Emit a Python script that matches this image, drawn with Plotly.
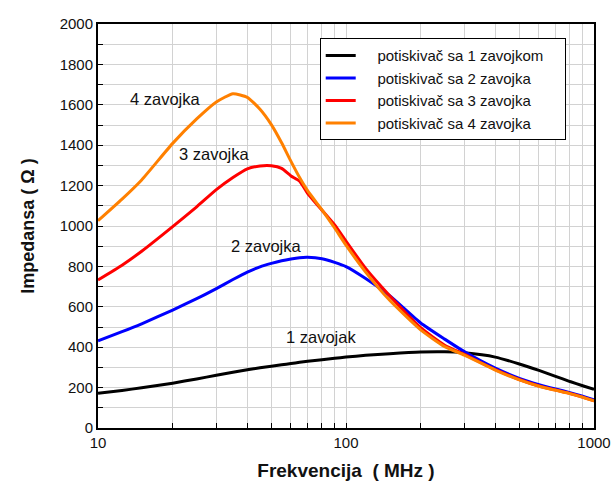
import numpy as np
import plotly.graph_objects as go

# Frequency points (MHz) shared by all measured curves
freq = [10, 12.5, 15, 20, 25, 30, 35, 40, 45, 50, 55, 60, 65, 70, 80, 90, 100,
        120, 150, 200, 250, 300, 400, 500, 600, 700, 800, 900, 1000]

# Impedance (Ohm) for ferrite suppressors with 1..4 turns
z_1 = [172, 186, 199, 222, 243, 261, 276, 288, 298, 306, 313, 319, 325, 330, 338, 345, 351,
       360, 368, 376, 377, 372, 351, 317, 285, 256, 230, 209, 191]
z_2 = [432, 477, 516, 584, 640, 690, 735, 772, 798, 815, 828, 837, 843, 845, 838, 820, 799,
       740, 655, 520, 440, 378, 296, 246, 215, 193, 175, 157, 139]
z_3 = [733, 806, 875, 997, 1095, 1180, 1240, 1283, 1297, 1298, 1285, 1248, 1222, 1162, 1078, 1005, 925,
       790, 655, 497, 410, 364, 289, 240, 208, 188, 171, 153, 135]
z_4 = [1026, 1133, 1228, 1409, 1530, 1614, 1655, 1637, 1578, 1502, 1412, 1320, 1240, 1175, 1080, 990, 905,
       772, 632, 486, 403, 361, 287, 238, 207, 187, 170, 152, 134]

series_names = ["potiskivač sa 1 zavojkom", "potiskivač sa 2 zavojka",
                "potiskivač sa 3 zavojka", "potiskivač sa 4 zavojka"]
series_values = [z_1, z_2, z_3, z_4]
series_colors = ["#000000", "#0000ff", "#ff0000", "#ff8000"]

# Curve labels placed inside the plot
label_text = ["4 zavojka", "3 zavojka", "2 zavojka", "1 zavojak"]
label_freq = [18.8, 29.4, 48.0, 79.3]
label_z = [1629, 1356, 901, 450]

# Axis ticks
x_ticks = [10, 20, 30, 40, 50, 60, 70, 80, 90, 100, 200, 300, 400, 500, 600, 700, 800, 900, 1000]
x_tick_text = [str(v) if v in (10, 100, 1000) else "" for v in x_ticks]

FONT = "Liberation Sans, Arial, sans-serif"
NB = "\u00a0"

fig = go.Figure()
for name, vals, col in zip(series_names, series_values, series_colors):
    fig.add_trace(go.Scatter(
        x=freq, y=vals, mode="lines", name=NB * 4 + name + NB * 3 + "\u2009",
        line=dict(color=col, width=3, shape="spline", smoothing=0.5),
    ))

for t, f, z in zip(label_text, label_freq, label_z):
    fig.add_annotation(x=np.log10(f), y=z, xref="x", yref="y", text=t, showarrow=False,
                       font=dict(family=FONT, size=16.5, color="#111"))

fig.update_layout(
    width=613, height=486,
    margin=dict(l=98, r=19, t=24, b=58, autoexpand=False),
    paper_bgcolor="white", plot_bgcolor="white",
    font=dict(family=FONT, size=15, color="#111"),
    showlegend=True,
    legend=dict(x=0.447, y=0.965, xanchor="left", yanchor="top",
                bgcolor="white", bordercolor="black", borderwidth=1,
                font=dict(family=FONT, size=15, color="#111"),
                tracegroupgap=0, itemwidth=30),
)

fig.update_xaxes(
    type="log", range=[1, 3], automargin=False,
    tickvals=x_ticks, ticktext=x_tick_text,
    ticks="inside", ticklen=5, tickcolor="black", tickwidth=1,
    showgrid=True, gridcolor="#d2d2d2", gridwidth=1,
    showline=True, linecolor="black", linewidth=2, mirror=True,
    tickfont=dict(family=FONT, size=15, color="#111"),
    title=dict(text="<b>Frekvencija" + NB + " ( MHz )</b>", font=dict(family=FONT, size=19, color="#111"), standoff=14),
    zeroline=False,
)
fig.update_yaxes(
    range=[0, 2000], dtick=200, automargin=False,
    ticks="inside", ticklen=5, tickcolor="black", tickwidth=1,
    showgrid=True, gridcolor="#d2d2d2", gridwidth=1,
    minor=dict(dtick=100, ticks="inside", ticklen=5, tickcolor="black", showgrid=True, gridcolor="#d2d2d2"),
    showline=True, linecolor="black", linewidth=2, mirror=True,
    tickfont=dict(family=FONT, size=15, color="#111"),
    title=dict(text="<b>Impedansa ( Ω )</b>", font=dict(family=FONT, size=18, color="#111"), standoff=20),
    zeroline=False,
)

fig.write_html("out.html")
